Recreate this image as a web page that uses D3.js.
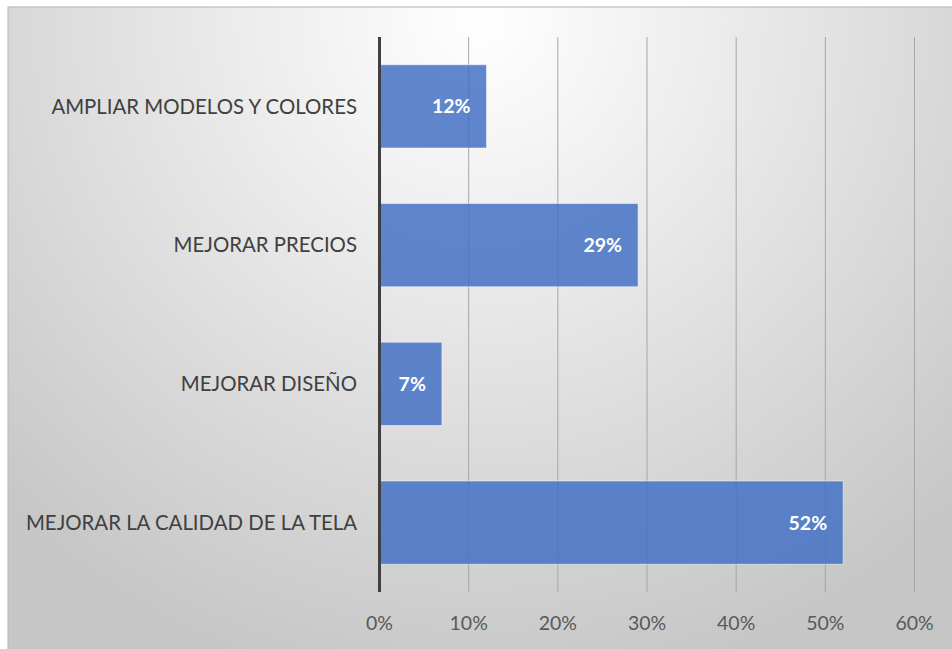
<!DOCTYPE html>
<html><head><meta charset="utf-8">
<script src="https://cdn.jsdelivr.net/npm/d3@7"></script>
<style>html,body{margin:0;padding:0;background:#fff;}svg{display:block;}</style>
</head><body>
<script>
const categories = ["AMPLIAR MODELOS Y COLORES", "MEJORAR PRECIOS", "MEJORAR DISEÑO", "MEJORAR LA CALIDAD DE LA TELA"];
const values = [12, 29, 7, 52];
const ticks = [0, 10, 20, 30, 40, 50, 60];

const W = 952, H = 649;
const svg = d3.select("body").append("svg").attr("width", W).attr("height", H);
const defs = svg.append("defs");
const grad = defs.append("radialGradient").attr("id", "bg")
  .attr("gradientUnits", "userSpaceOnUse")
  .attr("cx", 480).attr("cy", 20).attr("r", 680);
grad.append("stop").attr("offset", "0%").attr("stop-color", "#ffffff");
grad.append("stop").attr("offset", "35%").attr("stop-color", "#ececec");
grad.append("stop").attr("offset", "100%").attr("stop-color", "#c6c6c6");

svg.append("rect").attr("x", 8).attr("y", 7).attr("width", W).attr("height", H)
  .attr("fill", "url(#bg)").attr("stroke", "#bdbdbd").attr("stroke-width", 1.2);

const font = "Lato, 'Open Sans', sans-serif";
const plotTop = 37, plotBottom = 592;
const x = d3.scaleLinear().domain([0, 60]).range([379.5, 914.5]);
const y = d3.scaleBand().domain(categories).range([plotTop, plotBottom]).paddingInner(0.4).paddingOuter(0.2);

// gridlines
svg.append("g").selectAll("line").data(ticks.slice(1)).join("line")
  .attr("x1", d => x(d)).attr("x2", d => x(d))
  .attr("y1", plotTop).attr("y2", plotBottom)
  .attr("stroke", "#a6a6a6").attr("stroke-width", 1);

// bars
svg.append("g").selectAll("rect").data(values).join("rect")
  .attr("x", x(0)).attr("y", (d, i) => y(categories[i]))
  .attr("width", d => x(d) - x(0)).attr("height", y.bandwidth())
  .attr("fill", "#4472c4").attr("fill-opacity", 0.85)
  .attr("stroke", "#ffffff").attr("stroke-opacity", 0.5).attr("stroke-width", 1);

// axis line at 0
svg.append("line").attr("x1", x(0)).attr("x2", x(0)).attr("y1", plotTop).attr("y2", plotBottom)
  .attr("stroke", "#404040").attr("stroke-width", 3);

// data labels
svg.append("g").selectAll("text").data(values).join("text")
  .attr("x", d => x(d) - 16).attr("y", (d, i) => y(categories[i]) + y.bandwidth() / 2)
  .attr("dy", "0.36em").attr("text-anchor", "end")
  .attr("font-family", font).attr("font-weight", "bold").attr("font-size", 19.5)
  .attr("fill", "#ffffff").text(d => d + "%");

// category labels
svg.append("g").selectAll("text").data(categories).join("text")
  .attr("x", 357).attr("y", d => y(d) + y.bandwidth() / 2)
  .attr("dy", "0.36em").attr("text-anchor", "end")
  .attr("font-family", font).attr("font-size", 20.4)
  .attr("fill", "#404040").text(d => d);

// tick labels
svg.append("g").selectAll("text").data(ticks).join("text")
  .attr("x", d => x(d)).attr("y", 623).attr("dy", "0.36em").attr("text-anchor", "middle")
  .attr("font-family", font).attr("font-size", 19.5)
  .attr("fill", "#595959").text(d => d + "%");
</script>
</body></html>
